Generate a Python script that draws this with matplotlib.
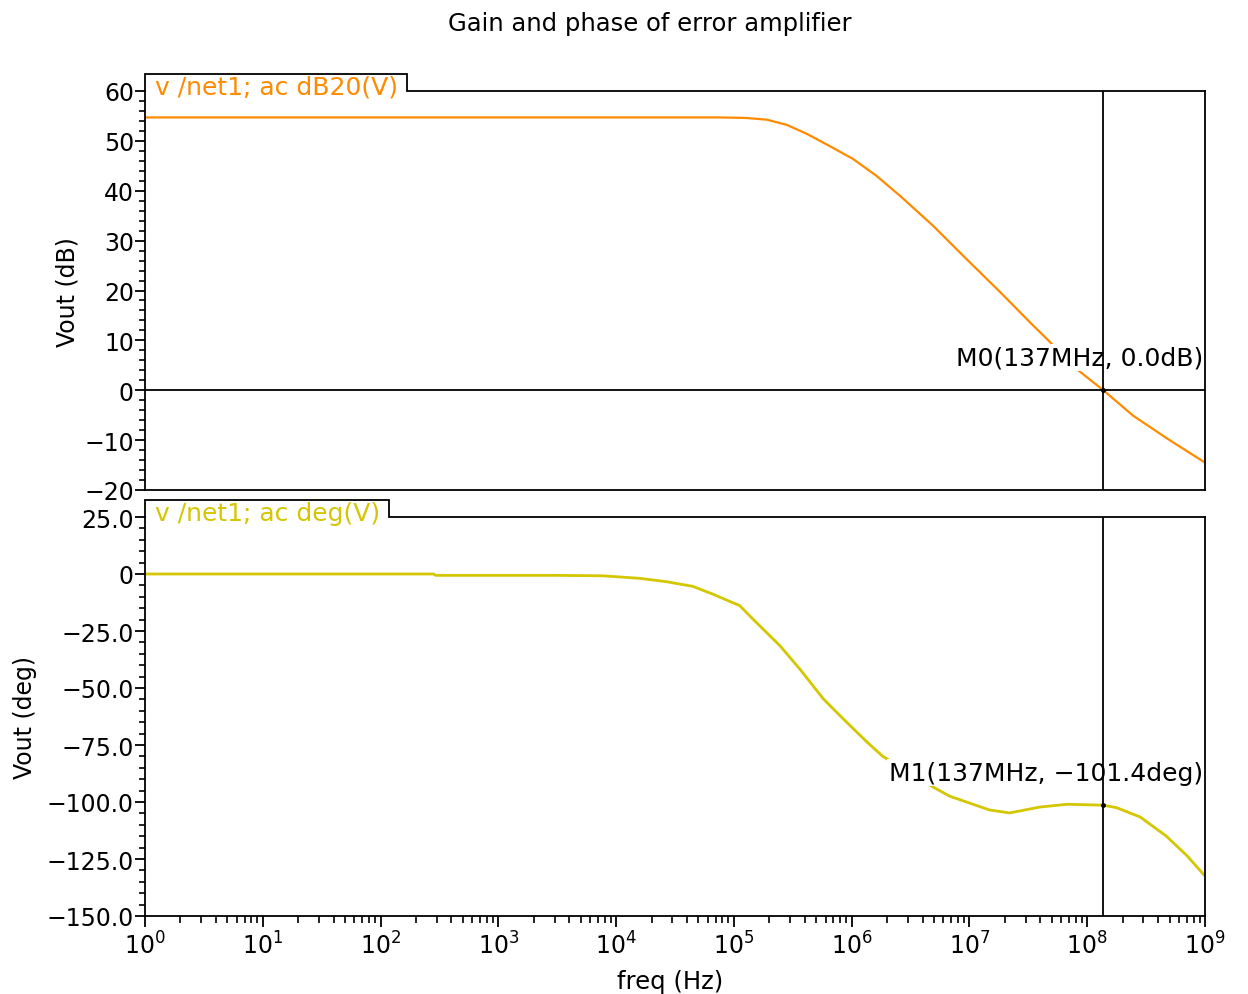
import numpy as np
import matplotlib
matplotlib.use('Agg')
import matplotlib.pyplot as plt
from matplotlib.ticker import LogLocator, MultipleLocator, FixedLocator, FuncFormatter, NullFormatter

# gain curve: log10(freq) and dB
gain_exp = [0, 4.0, 4.88, 5.1, 5.28, 5.45, 5.62, 5.81, 6.01, 6.21, 6.41, 6.69, 6.975, 7.26, 7.54,
            7.67, 7.87, 8.137, 8.39, 8.68, 9.0]
gain_db = [54.7, 54.7, 54.7, 54.6, 54.25, 53.2, 51.4, 49.0, 46.4, 43.0, 39.0, 33.0, 26.3, 19.7, 13.0,
           10.0, 5.0, 0.0, -5.1, -9.7, -14.5]

# phase curve: log10(freq) and degrees
phase_exp = [0, 2.45, 2.47, 3.5, 3.89, 4.2, 4.43, 4.65, 4.82, 5.05, 5.16, 5.39, 5.56, 5.76, 5.93,
             6.13, 6.26, 6.6, 6.83, 7.17, 7.34, 7.6, 7.83, 8.137, 8.25, 8.45, 8.67, 8.85, 9.0]
phase_deg = [0, 0, -0.6, -0.6, -0.8, -1.9, -3.4, -5.4, -8.8, -13.9, -19.7, -31.4, -41.7, -54.8, -63.6,
             -73.7, -79.8, -90.8, -97.4, -103.5, -104.8, -102.2, -101.0, -101.4, -102.5, -106.6, -114.9, -123.7, -132.5]

marker_freq = 137e6
m0_label = 'M0(137MHz, 0.0dB)'
m0_value = 0.0
m1_label = 'M1(137MHz, \u2212101.4deg)'
m1_value = -101.4

gain_ticks = [60, 50, 40, 30, 20, 10, 0, -10, -20]
phase_ticks = [25.0, 0, -25.0, -50.0, -75.0, -100.0, -125.0, -150.0]
decades = list(range(0, 10))

gain_color = '#ff8a00'
phase_color = '#d4c600'

W, H = 1248, 995
fig = plt.figure(figsize=(W / 100, H / 100), dpi=100)
plt.rcParams['font.family'] = 'DejaVu Sans'


def px_axes(left, top, right, bottom):
    return fig.add_axes([left / W, 1 - bottom / H, (right - left) / W, (bottom - top) / H])


ax1 = px_axes(145, 92, 1205, 491)
ax2 = px_axes(145, 518, 1205, 917)

freq_g = 10.0 ** np.array(gain_exp)
freq_p = 10.0 ** np.array(phase_exp)

ax1.plot(freq_g, gain_db, color=gain_color, lw=1.6, zorder=2)
ax2.plot(freq_p, phase_deg, color=phase_color, lw=2.0, zorder=2)


def fmt_num(v, dec):
    if v == 0:
        return '0'
    s = f'{abs(v):.{dec}f}'
    return ('\u2212' if v < 0 else '') + s


for ax in (ax1, ax2):
    ax.set_xscale('log')
    ax.set_xlim(1, 1e9)
    for sp in ax.spines.values():
        sp.set_linewidth(1.3)
        sp.set_color('black')
        sp.set_zorder(7)
    ax.tick_params(axis='y', which='major', direction='out', length=7, width=1.3, labelsize=17, pad=1)
    ax.tick_params(axis='y', which='minor', direction='out', length=4, width=1.2)

ax1.set_ylim(-20, 60)
ax1.yaxis.set_major_locator(FixedLocator(gain_ticks))
ax1.yaxis.set_minor_locator(MultipleLocator(2))
ax1.yaxis.set_major_formatter(FuncFormatter(lambda v, p: fmt_num(v, 0)))
ax1.tick_params(axis='x', which='both', length=0, labelbottom=False)

ax2.set_ylim(-150, 25)
ax2.yaxis.set_major_locator(FixedLocator(phase_ticks))
ax2.yaxis.set_minor_locator(MultipleLocator(5))
ax2.yaxis.set_major_formatter(FuncFormatter(lambda v, p: fmt_num(v, 1)))
ax2.xaxis.set_major_locator(FixedLocator([10.0 ** d for d in decades]))
ax2.xaxis.set_major_formatter(FuncFormatter(lambda v, p: r'$10^{%d}$' % round(np.log10(v))))
ax2.xaxis.set_minor_locator(LogLocator(base=10, subs=np.arange(2, 10), numticks=100))
ax2.xaxis.set_minor_formatter(NullFormatter())
ax2.tick_params(axis='x', which='major', direction='out', length=8, width=1.3, labelsize=17, pad=3)
ax2.tick_params(axis='x', which='minor', direction='out', length=5, width=1.2)

# marker cursor lines
ax1.axhline(m0_value, color='black', lw=1.3, zorder=4)
for ax in (ax1, ax2):
    ax.axvline(marker_freq, color='black', lw=1.3, zorder=4)
ax1.plot([marker_freq], [m0_value], 'o', color='black', ms=2.5, zorder=5)
ax2.plot([marker_freq], [m1_value], 'o', color='black', ms=2.5, zorder=5)

box = dict(facecolor='white', edgecolor='none', pad=1.0)
ax1.text(0.998, 4.2, m0_label, transform=ax1.get_yaxis_transform(), ha='right', va='bottom',
         fontsize=18, color='black', bbox=box, zorder=3)
ax2.text(0.998, -92.5, m1_label, transform=ax2.get_yaxis_transform(), ha='right', va='bottom',
         fontsize=18, color='black', bbox=box, zorder=3)


def add_tab(ax, label, color):
    # legend "tab" sitting on the top edge of the plot frame
    ax.spines['top'].set_visible(False)
    ax_w = ax.bbox.width
    ax_h = ax.bbox.height
    txt = ax.text(10 / ax_w, 1 - 3 / ax_h, label, transform=ax.transAxes, color=color,
                  fontsize=18, ha='left', va='baseline', clip_on=False, zorder=6)
    fig.canvas.draw()
    bb = txt.get_window_extent().transformed(ax.transAxes.inverted())
    w = bb.x1 + 9 / ax_w
    h = 17 / ax_h
    ax.plot([0, 0, w, w, 1], [1, 1 + h, 1 + h, 1, 1], transform=ax.transAxes,
            color='black', lw=1.3, clip_on=False, zorder=6, solid_joinstyle='miter')


add_tab(ax1, 'v /net1; ac dB20(V)', gain_color)
add_tab(ax2, 'v /net1; ac deg(V)', phase_color)

fig.text(650 / W, 1 - 24 / H, 'Gain and phase of error amplifier', ha='center', va='center', fontsize=17.5)
fig.text(68 / W, 1 - 292 / H, 'Vout (dB)', ha='center', va='center', rotation=90, fontsize=17)
fig.text(25 / W, 1 - 718 / H, 'Vout (deg)', ha='center', va='center', rotation=90, fontsize=17)
fig.text(670 / W, 1 - 982 / H, 'freq (Hz)', ha='center', va='center', fontsize=17.5)

fig.savefig('out.png', dpi=100)
